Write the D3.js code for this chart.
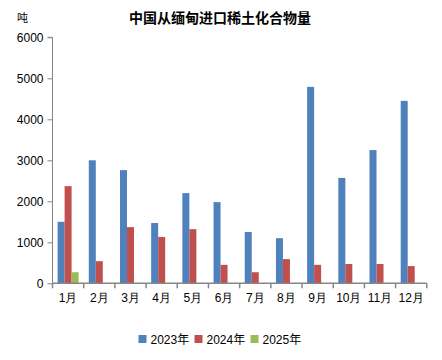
<!DOCTYPE html>
<html>
<head>
<meta charset="utf-8">
<script src="https://cdn.jsdelivr.net/npm/d3@7"></script>
<style>
  html, body { margin: 0; padding: 0; background: #fff; }
  svg { display: block; font-family: "Liberation Sans", Arial, "Noto Sans CJK SC", sans-serif; }
</style>
</head>
<body>
<svg id="chart" width="442" height="360"></svg>
<script>
const months = ["1月","2月","3月","4月","5月","6月","7月","8月","9月","10月","11月","12月"];
const seriesNames = ["2023年","2024年","2025年"];
const values2023 = [1500, 3000, 2760, 1470, 2200, 1980, 1250, 1100, 4790, 2570, 3250, 4450];
const values2024 = [2370, 540, 1370, 1130, 1320, 450, 270, 590, 450, 470, 470, 420];
const values2025 = [270, null, null, null, null, null, null, null, null, null, null, null];
const colors = ["#4F81BD", "#C0504D", "#9BBB59"];
const yTicks = [0, 1000, 2000, 3000, 4000, 5000, 6000];
const title = "中国从缅甸进口稀土化合物量";
const unit = "吨";

const allSeries = [values2023, values2024, values2025];
const svg = d3.select("#chart");
const axisColor = "#868686";

const x0 = d3.scaleBand().domain(months).range([52.5, 426.8]).paddingInner(0).paddingOuter(0);
const groupW = 21;
const x1 = d3.scaleBand().domain(seriesNames).range([0, groupW]).padding(0);
const y = d3.scaleLinear().domain([0, 6000]).range([283.3, 37.3]);

// title
svg.append("text").attr("x", 220).attr("y", 23).attr("text-anchor", "middle")
  .style("font-family", "'Noto Sans CJK SC', sans-serif")
  .style("font-size", "14px").style("font-weight", "bold").attr("fill", "#000").text(title);
svg.append("text").attr("x", 17).attr("y", 22)
  .style("font-family", "'Noto Sans CJK SC', sans-serif")
  .style("font-size", "11px").attr("fill", "#000").text(unit);

// bars
const data = [];
months.forEach((m, i) => {
  seriesNames.forEach((s, j) => {
    const v = allSeries[j][i];
    if (v != null) data.push({ m, s, v, j });
  });
});
const off = (x0.bandwidth() - groupW) / 2;
svg.append("g").selectAll("rect").data(data).join("rect")
  .attr("x", d => x0(d.m) + off + x1(d.s))
  .attr("y", d => y(d.v))
  .attr("width", x1.bandwidth())
  .attr("height", d => y(0) - y(d.v))
  .attr("fill", d => colors[d.j]);

// y axis
const yAxis = svg.append("g").attr("transform", "translate(52.5,0)")
  .call(d3.axisLeft(y).tickValues(yTicks).tickSize(5).tickPadding(4).tickFormat(d3.format("d")));
yAxis.select(".domain").attr("stroke", axisColor).attr("d", `M-5,${y(6000)}H0V${y(0)}`);
yAxis.selectAll(".tick line").attr("stroke", axisColor);
yAxis.selectAll(".tick text").style("font-size", "12px").attr("fill", "#000");

// x axis
const xAxis = svg.append("g").attr("transform", `translate(0,${y(0)})`)
  .call(d3.axisBottom(x0).tickSize(0).tickPadding(10));
xAxis.select(".domain").attr("stroke", axisColor).attr("stroke-width", 1.5).attr("d", `M52.5,0H426.8`);
xAxis.selectAll(".tick text").style("font-size", "12px").attr("fill", "#000");
const boundaries = months.map(m => x0(m)).concat([x0(months[months.length - 1]) + x0.bandwidth()]);
xAxis.selectAll("line.bound").data(boundaries).join("line").attr("class", "bound")
  .attr("x1", d => d).attr("x2", d => d).attr("y1", 0).attr("y2", 5)
  .attr("stroke", axisColor).attr("stroke-width", 1.5);

// legend
const legendX = [138.5, 194.5, 250.5];
const lg = svg.append("g");
seriesNames.forEach((s, j) => {
  lg.append("rect").attr("x", legendX[j]).attr("y", 335).attr("width", 8).attr("height", 8).attr("fill", colors[j]);
  lg.append("text").attr("x", legendX[j] + 12).attr("y", 343.5).style("font-size", "12px").attr("fill", "#000").text(s);
});
</script>
</body>
</html>
